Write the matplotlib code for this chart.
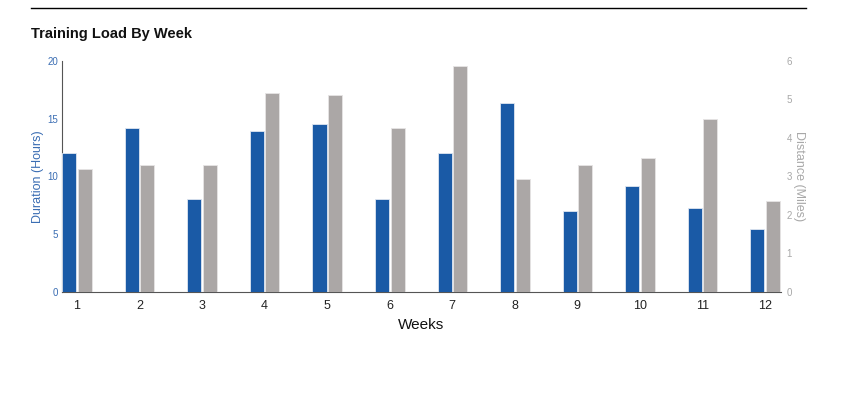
import numpy as np
import matplotlib; matplotlib.use('Agg')
import matplotlib.pyplot as plt
from matplotlib.lines import Line2D

plt.rcParams['font.family'] = ['Liberation Sans', 'DejaVu Sans']

weeks = [1, 2, 3, 4, 5, 6, 7, 8, 9, 10, 11, 12]
hours = [12.05, 14.2, 8.05, 13.9, 14.55, 8.05, 12.05, 16.4, 7.05, 9.15, 7.3, 5.45]
miles = [3.19, 3.31, 3.31, 5.18, 5.12, 4.25, 5.86, 2.94, 3.29, 3.49, 4.49, 2.37]

BLUE = '#1a5aa6'; GRAY = '#aba7a6'
BLUE_TXT = '#3a6db3'; GRAY_TXT = '#a8a8a8'

fig = plt.figure(figsize=(8.46, 3.93), dpi=100)
ax = fig.add_axes([62/846, 101/393, 719/846, 231/393])
ax2 = ax.twinx()

x = np.array(weeks, dtype=float)
w = 0.225
ax.bar(x - 0.123, hours, w, color=BLUE, edgecolor='#dfe6f0', linewidth=0.6, zorder=3)
ax2.bar(x + 0.125, miles, w, color=GRAY, edgecolor='#e6e4e4', linewidth=0.6, zorder=3)

ax.set_xlim(0.76, 12.256)
ax.set_ylim(0, 20); ax2.set_ylim(0, 6)
ax.set_yticks([0, 5, 10, 15, 20]); ax2.set_yticks(range(7))
ax.set_xticks(weeks)
ax.tick_params(axis='x', length=0, labelsize=9, pad=6, colors='#222222')
ax.tick_params(axis='y', length=0, labelsize=7, pad=3, labelcolor=BLUE_TXT)
ax2.tick_params(axis='y', length=0, labelsize=7, pad=4, labelcolor=GRAY_TXT)

for a in (ax, ax2):
    for s in ('top', 'right'):
        a.spines[s].set_visible(False)
ax2.spines['left'].set_visible(False); ax2.spines['bottom'].set_visible(False)
ax.spines['left'].set_color('#555555'); ax.spines['bottom'].set_color('#555555')
ax.spines['left'].set_linewidth(0.8); ax.spines['bottom'].set_linewidth(0.8)

ax.set_xlabel('Weeks', fontsize=11, color='#111111', labelpad=4)
ax.set_ylabel('Duration (Hours)', fontsize=9, color=BLUE_TXT, labelpad=2)
ax2.set_ylabel('Distance (Miles)', fontsize=9, color=GRAY_TXT, rotation=270, labelpad=9)

fig.text(31/846, 1 - 34/393, 'Training Load By Week', fontsize=10.5, fontweight='bold',
         va='center', ha='left', color='#111111')
fig.add_artist(Line2D([31/846, 806/846], [1 - 8/393, 1 - 8/393], color='black', linewidth=1))

fig.savefig('out.png', dpi=100)
